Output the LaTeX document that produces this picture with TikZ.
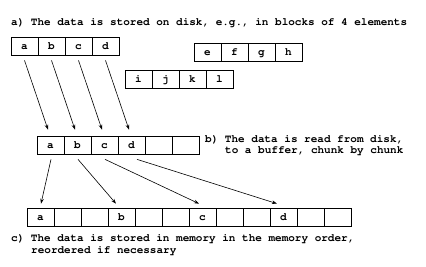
\documentclass[tikz,border=0pt]{standalone}
\usepackage[T1]{fontenc}
\usepackage{courier}
\usetikzlibrary{arrows.meta, positioning, calc}

\begin{document}
\begin{tikzpicture}[
  x=1pt, y=-1pt,
  every node/.style={font=\fontsize{11}{13}\selectfont\ttfamily\bfseries},
  cell/.style={rectangle, draw=black, line width=0.7pt, minimum width=27pt,
               minimum height=18pt, inner sep=0pt, text height=7pt, text depth=0pt},
  lbl/.style={anchor=base west, inner sep=0pt},
  arr/.style={-{Stealth[length=5pt,width=3.5pt]}, line width=0.6pt},
]
\useasboundingbox (0,0) rectangle (426,266);
% a) blocks on disk
\node[lbl] (ta) at (11,25) {a) The data is stored on disk, e.g., in blocks of 4 elements};
\foreach \t [count=\i] in {a,b,c,d}
  \node[cell] (da\i) at ({11+27*\i-13.5},46) {\t};
\foreach \t [count=\i] in {e,f,g,h}
  \node[cell] (db\i) at ({194+27*\i-13.5},52) {\t};
\foreach \t [count=\i] in {i,j,k,l}
  \node[cell] (dc\i) at ({125+27*\i-13.5},79) {\t};
% b) buffer
\foreach \t [count=\i] in {a,b,c,d,{},{}}
  \node[cell] (bf\i) at ({37+27*\i-13.5},145) {\t};
\node[lbl] (tb1) at (205,142) {b) The data is read from disk,};
\node[lbl] (tb2) at (225,153.5) {to a buffer, chunk by chunk};
% c) memory
\foreach \t [count=\i] in {a,{},{},b,{},{},c,{},{},d,{},{}}
  \node[cell] (mm\i) at ({27+27*\i-13.5},217) {\t};
\node[lbl] (tc1) at (11,241) {c) The data is stored in memory in the memory order,};
\node[lbl] (tc2) at (31,253) {reordered if necessary};
% arrows
\foreach \i in {1,...,4}
  \draw[arr] ($(da\i.south)+(0,5)$) -- ($(bf\i.north)+(-2.5,-6)$);
\foreach \s/\m/\dx/\ex in {1/1/0.5/0.5, 2/4/0.5/-5.5, 3/7/0.5/-3.5, 4/10/5.5/-6.5}
  \draw[arr] ($(bf\s.south)+(\dx,5)$) -- ($(mm\m.north)+(\ex,-4)$);
\end{tikzpicture}
\end{document}
